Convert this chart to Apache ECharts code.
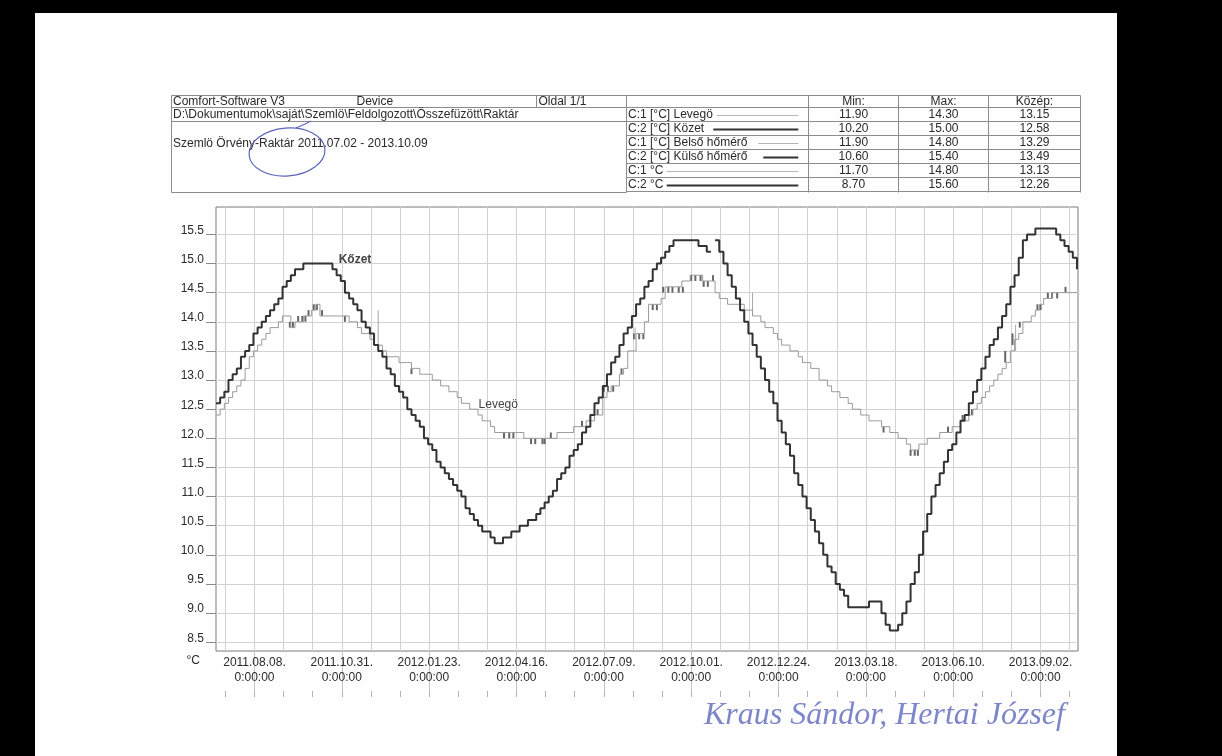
<!DOCTYPE html>
<html>
<head>
<meta charset="utf-8">
<title>Szemlö Örvény-Raktár 2011.07.02 - 2013.10.09</title>
<script src="https://cdn.jsdelivr.net/npm/echarts@6/dist/echarts.min.js"></script>
<style>
  html, body { margin: 0; padding: 0; background: #000; }
  #chart { width: 1222px; height: 756px; }
</style>
</head>
<body>
<div id="chart"></div>
<script>
// ---- data -------------------------------------------------------------
// Readings every 4 days, first reading on 2011.07.02 (day -37 relative to 2011.08.08)
const firstSampleDay = -37;
const sampleStepDays = 4;
const axisStartDay = -37;   // 2011.07.02
const axisEndDay = 792;     // 2013.10.09

// C:2 — Közet (rock temperature, °C)
const kozet = [
  12.6, 12.7, 12.8, 13.0, 13.1, 13.2, 13.4, 13.5, 13.6, 13.8,
  13.9, 14.0, 14.1, 14.2, 14.3, 14.4, 14.6, 14.7, 14.8, 14.9,
  14.9, 15.0, 15.0, 15.0, 15.0, 15.0, 15.0, 15.0, 14.9, 14.8,
  14.7, 14.5, 14.4, 14.3, 14.2, 14.0, 13.9, 13.8, 13.6, 13.5,
  13.4, 13.2, 13.1, 12.9, 12.8, 12.7, 12.5, 12.4, 12.3, 12.2,
  12.0, 11.9, 11.8, 11.6, 11.5, 11.4, 11.3, 11.2, 11.1, 11.0,
  10.8, 10.7, 10.6, 10.5, 10.4, 10.4, 10.3, 10.2, 10.2, 10.3,
  10.3, 10.4, 10.4, 10.5, 10.5, 10.6, 10.6, 10.7, 10.8, 10.9,
  11.0, 11.1, 11.3, 11.4, 11.5, 11.7, 11.8, 11.9, 12.1, 12.2,
  12.4, 12.6, 12.7, 12.9, 13.1, 13.3, 13.4, 13.6, 13.8, 13.9,
  14.1, 14.3, 14.4, 14.6, 14.7, 14.9, 15.0, 15.1, 15.2, 15.3,
  15.4, 15.4, 15.4, 15.4, 15.4, 15.4, 15.3, 15.3, 15.2, null,
  15.4, 15.2, 15.0, 14.8, 14.6, 14.4, 14.2, 14.0, 13.8, 13.6,
  13.4, 13.2, 13.0, 12.8, 12.6, 12.3, 12.1, 11.9, 11.7, 11.4,
  11.2, 11.0, 10.8, 10.6, 10.4, 10.2, 10.0, 9.8, 9.7, 9.5,
  9.4, 9.3, 9.1, 9.1, 9.1, 9.1, 9.1, 9.2, 9.2, 9.2,
  9.0, 8.8, 8.7, 8.7, 8.8, 9.0, 9.2, 9.5, 9.7, 10.0,
  10.4, 10.7, 11.0, 11.2, 11.4, 11.6, 11.8, 11.9, 12.1, 12.3,
  12.4, 12.6, 12.8, 13.0, 13.2, 13.4, 13.6, 13.7, 13.9, 14.1,
  14.3, 14.6, 14.8, 15.1, 15.4, 15.5, 15.5, 15.6, 15.6, 15.6,
  15.6, 15.6, 15.5, 15.4, 15.3, 15.2, 15.1, 14.9
];

// C:1 — Levegö (air temperature, °C)
const levego = [
  12.4, 12.5, 12.6, 12.7, 12.8, 12.9, 13.0, 13.2, 13.4, 13.5,
  13.6, 13.7, 13.8, 13.9, 13.9, 14.0, 14.1, 14.1, 13.9, 14.0,
  14.0, 14.1, 14.1, 14.2, 14.3, 14.1, 14.1, 14.1, 14.1, 14.1,
  14.1, 14.1, 14.0, 14.0, 13.9, 13.8, 13.8, 13.7, 13.6, 13.6,
  13.5, 13.4, 13.4, 13.4, 13.3, 13.3, 13.3, 13.2, 13.2, 13.1,
  13.1, 13.1, 13.0, 13.0, 12.9, 12.9, 12.8, 12.8, 12.7, 12.6,
  12.6, 12.5, 12.5, 12.4, 12.3, 12.3, 12.2, 12.1, 12.1, 12.1,
  12.1, 12.1, 12.1, 12.1, 12.0, 12.0, 12.0, 12.0, 12.0, 12.0,
  12.0, 12.0, 12.1, 12.1, 12.1, 12.1, 12.2, 12.2, 12.2, 12.3,
  12.3, 12.4, 12.4, 12.7, 12.8, 12.9, 12.9, 13.1, 13.2, 13.5,
  13.5, 13.8, 13.8, 14.0, 14.3, 14.3, 14.3, 14.4, 14.6, 14.6,
  14.6, 14.6, 14.7, 14.7, 14.8, 14.8, 14.8, 14.7, 14.7, 14.7,
  14.5, 14.4, 14.4, 14.3, 14.3, 14.3, 14.3, 14.2, 14.2, 14.1,
  14.1, 14.0, 13.9, 13.9, 13.8, 13.7, 13.6, 13.6, 13.5, 13.5,
  13.4, 13.3, 13.3, 13.2, 13.2, 13.0, 13.0, 12.9, 12.8, 12.8,
  12.7, 12.7, 12.6, 12.5, 12.5, 12.4, 12.4, 12.3, 12.3, 12.3,
  12.2, 12.2, 12.1, 12.1, 12.0, 12.0, 11.9, 11.8, 11.8, 11.9,
  11.9, 12.0, 12.0, 12.0, 12.1, 12.1, 12.1, 12.2, 12.2, 12.3,
  12.3, 12.4, 12.5, 12.6, 12.7, 12.8, 12.9, 13.0, 13.1, 13.2,
  13.3, 13.5, 13.7, 13.8, 14.0, 14.0, 14.1, 14.2, 14.3, 14.4,
  14.4, 14.5, 14.5, 14.5, 14.5, 14.5, 14.5, 14.5
];

// Levegö: short stretches where the reading flickered between two values
// [day, low, high]
const levegoFlicker = [
  [34, 13.9, 14.0], [37, 13.9, 14.0], [42, 14.0, 14.1], [46, 14.0, 14.1], [49, 14.0, 14.1],
  [52, 14.1, 14.2], [57, 14.2, 14.3], [60, 14.2, 14.3], [65, 14.1, 14.2], [87, 14.0, 14.1],
  [151, 13.1, 13.2], [240, 12.0, 12.1], [245, 12.0, 12.1], [249, 12.0, 12.1],
  [266, 11.9, 12.0], [270, 11.9, 12.0], [277, 11.9, 12.0], [279, 11.9, 12.0], [285, 12.0, 12.1],
  [315, 12.2, 12.3], [330, 12.4, 12.5], [336, 12.8, 12.9], [340, 12.8, 12.9], [345, 12.8, 12.9],
  [353, 13.1, 13.2], [365, 13.7, 13.8], [370, 13.7, 13.8], [374, 13.7, 13.8],
  [383, 14.2, 14.3], [387, 14.2, 14.3], [393, 14.5, 14.6], [398, 14.5, 14.6], [402, 14.5, 14.6],
  [408, 14.5, 14.6], [412, 14.5, 14.6], [420, 14.7, 14.8], [424, 14.7, 14.8], [429, 14.7, 14.8],
  [432, 14.6, 14.7], [436, 14.6, 14.7], [441, 14.7, 14.8],
  [605, 12.1, 12.2], [631, 11.7, 11.8], [635, 11.7, 11.8], [638, 11.7, 11.8],
  [667, 12.1, 12.2], [681, 12.3, 12.4], [690, 12.4, 12.5], [722, 13.3, 13.5], [729, 13.6, 13.8],
  [736, 13.9, 14.0], [753, 14.2, 14.3], [756, 14.2, 14.3], [763, 14.4, 14.5], [767, 14.4, 14.5],
  [772, 14.4, 14.5], [780, 14.5, 14.6]
];
// Levegö: single-reading spikes [day, low, high]
const levegoSpikes = [
  [119, 13.6, 14.2], [366, 13.7, 13.9], [479, 14.1, 14.5], [732, 13.5, 13.95]
];

// Axis tick labels
const dateTickLabels = [
  '2011.08.08.', '2011.10.31.', '2012.01.23.', '2012.04.16.', '2012.07.09.',
  '2012.10.01.', '2012.12.24.', '2013.03.18.', '2013.06.10.', '2013.09.02.'
];
const timeTickLabel = '0:00:00';
const tempTicks = [8.5, 9.0, 9.5, 10.0, 10.5, 11.0, 11.5, 12.0, 12.5, 13.0, 13.5, 14.0, 14.5, 15.0, 15.5];
const tempMin = 8.35;
const tempMax = 15.97;
const tempUnit = '°C';

// Header block
const headerSoftware = 'Comfort-Software V3';
const headerDevice = 'Device';
const headerPage = 'Oldal 1/1';
const headerPath = 'D:\\Dokumentumok\\saját\\Szemlö\\Feldolgozott\\Összefüzött\\Raktár';
const headerTitle = 'Szemlö Örvény-Raktár 2011.07.02 - 2013.10.09';
const statHeaders = ['Min:', 'Max:', 'Közép:'];
const channelNames = ['C:1 [°C] Levegö', 'C:2 [°C] Közet', 'C:1 [°C] Belső hőmérő', 'C:2 [°C] Külső hőmérő', 'C:1 °C', 'C:2 °C'];
const channelMin = [11.90, 10.20, 11.90, 10.60, 11.70, 8.70];
const channelMax = [14.30, 15.00, 14.80, 15.40, 14.80, 15.60];
const channelMean = [13.15, 12.58, 13.29, 13.49, 13.13, 12.26];
const channelHeavy = [false, true, false, true, false, true];

const seriesLabelRock = 'Kőzet';
const seriesLabelAir = 'Levegö';
const signatureText = 'Kraus Sándor, Hertai József';

// ---- helpers ------------------------------------------------------------
const DAY_MS = 86400000;
function parseDate(s) {
  const p = s.split('.');
  return Date.UTC(+p[0], +p[1] - 1, +p[2]);
}
const baseMs = parseDate(dateTickLabels[0]);
const labelDays = dateTickLabels.map(s => Math.round((parseDate(s) - baseMs) / DAY_MS));
const gridStep = (labelDays[1] - labelDays[0]) / 3;
const gridDays = [];
for (let d = labelDays[0] - gridStep; d <= axisEndDay; d += gridStep) {
  if (d >= axisStartDay) gridDays.push(d);
}
const toPairs = arr => arr.map((v, i) => [firstSampleDay + i * sampleStepDays, v]);

// ---- layout (pixels) ----------------------------------------------------
const FONT = '"Liberation Sans", Arial, Helvetica, sans-serif';
const TXT = '#2a2a2a';
const RULE = '#8c8c8c';
const L = {
  tblLeft: 171.5, tblMid: 626.5, tblRight: 1080.5,
  tblTop: 95.5, row1: 107.5, row2: 121.5, tblBottom: 192.5,
  pageDiv: 536.5,
  colDivs: [808.5, 898.5, 988.5],
  colCenters: [853.5, 943.5, 1034.5],
  rowH: 14,
  swatchStart: [716.7, 713.3, 758.3, 763.3, 666.7, 666.7],
  swatchEnd: 798.3
};

const graphics = [];
// paper
graphics.push({ type: 'rect', z: -10, silent: true, shape: { x: 35, y: 13, width: 1082, height: 743 }, style: { fill: '#fefefe' } });

function hline(x1, x2, y, color, w) {
  graphics.push({ type: 'line', silent: true, shape: { x1, y1: y, x2, y2: y }, style: { stroke: color || RULE, lineWidth: w || 1 } });
}
function vline(x, y1, y2) {
  graphics.push({ type: 'line', silent: true, shape: { x1: x, y1, x2: x, y2 }, style: { stroke: RULE, lineWidth: 1 } });
}
function text(str, x, y, align, opts) {
  graphics.push(Object.assign({
    type: 'text', silent: true,
    style: { text: str, x, y, font: '12px ' + FONT, fill: TXT, align: align || 'left', verticalAlign: 'middle', textAlign: align || 'left', textVerticalAlign: 'middle' }
  }, opts || {}));
}

// left header table
hline(L.tblLeft, L.tblRight, L.tblTop);
hline(L.tblLeft, L.tblMid, L.row1);
hline(L.tblLeft, L.tblMid, L.row2);
hline(L.tblLeft, L.tblMid, L.tblBottom);
vline(L.tblLeft, L.tblTop, L.tblBottom);
vline(L.pageDiv, L.tblTop, L.row1);
vline(L.tblMid, L.tblTop, L.tblBottom);
text(headerSoftware, 173, 101.8);
text(headerDevice, 356.5, 101.8);
text(headerPage, 538.5, 101.8);
text(headerPath, 173, 114.8);
text(headerTitle, 173, 143.5);

// right statistics table
hline(L.tblMid, L.tblRight, L.row1);
for (let i = 1; i <= channelNames.length; i++) hline(L.tblMid, L.tblRight, L.row1 + i * L.rowH);
L.colDivs.forEach(x => vline(x, L.tblTop, L.tblBottom));
vline(L.tblRight, L.tblTop, L.tblBottom);
statHeaders.forEach((h, i) => text(h, L.colCenters[i], 101.8, 'center'));
channelNames.forEach((name, i) => {
  const y = L.row1 + L.rowH * i + 7.3;
  text(name, 628, y);
  hline(L.swatchStart[i], L.swatchEnd, Math.round(y) + 0.5, channelHeavy[i] ? '#333' : '#b5b5b5', channelHeavy[i] ? 2 : 1);
  text(channelMin[i].toFixed(2), L.colCenters[0], y, 'center');
  text(channelMax[i].toFixed(2), L.colCenters[1], y, 'center');
  text(channelMean[i].toFixed(2), L.colCenters[2], y, 'center');
});

// unit caption under the temperature axis
text(tempUnit, 200, 661, 'right');

// pen mark around the title year
graphics.push({
  type: 'ellipse', silent: true, x: 287, y: 152, rotation: 0.08,
  shape: { cx: 0, cy: 0, rx: 38, ry: 24 },
  style: { fill: null, stroke: '#5b66b8', lineWidth: 1.2 }
});
graphics.push({
  type: 'polyline', silent: true,
  shape: { points: [[296, 128], [305, 124], [311, 121]] },
  style: { fill: null, stroke: '#5b66b8', lineWidth: 1.1 }
});
// signature
graphics.push({
  type: 'text', silent: true,
  style: { text: signatureText, x: 704, y: 716, font: 'italic 32px "Liberation Serif", "DejaVu Serif", serif', fill: '#7c86c9', verticalAlign: 'middle', textVerticalAlign: 'middle' }
});

// ---- chart ---------------------------------------------------------------
const chart = echarts.init(document.getElementById('chart'));

// vertical flicker marks drawn at a day between two values
function flickerRenderer(width, color) {
  return function (params, api) {
    const top = api.coord([api.value(0), api.value(2)]);
    const bottom = api.coord([api.value(0), api.value(1)]);
    return {
      type: 'rect',
      shape: { x: top[0] - width / 2, y: top[1], width: width, height: bottom[1] - top[1] },
      style: { fill: color }
    };
  };
}

chart.setOption({
  animation: false,
  backgroundColor: '#000',
  grid: {
    left: 216, top: 207, right: 144, bottom: 105,
    show: true, backgroundColor: '#fff', borderColor: '#7a7a7a', borderWidth: 1,
    containLabel: false, outerBoundsMode: 'none'
  },
  xAxis: [
    {
      type: 'value', min: axisStartDay, max: axisEndDay,
      axisLine: { show: false, onZero: false },
      axisTick: { show: false, customValues: gridDays },
      splitLine: { show: true, lineStyle: { color: '#d2d2d2', width: 1 } },
      axisLabel: {
        customValues: labelDays, margin: 4, lineHeight: 15,
        fontFamily: FONT, fontSize: 12, color: TXT,
        formatter: v => {
          const i = labelDays.indexOf(Math.round(v));
          return i < 0 ? '' : dateTickLabels[i] + '\n' + timeTickLabel;
        }
      }
    },
    {
      type: 'value', min: axisStartDay, max: axisEndDay, position: 'bottom',
      axisLine: { show: false, onZero: false },
      axisTick: { show: true, customValues: labelDays, length: 46, lineStyle: { color: '#c4c4c4', width: 1 } },
      axisLabel: { show: false }, splitLine: { show: false }
    },
    {
      type: 'value', min: axisStartDay, max: axisEndDay, position: 'bottom', offset: 40,
      axisLine: { show: false, onZero: false },
      axisTick: { show: true, customValues: gridDays, length: 6, lineStyle: { color: '#b4b4b4', width: 1 } },
      axisLabel: { show: false }, splitLine: { show: false }
    }
  ],
  yAxis: {
    type: 'value', min: tempMin, max: tempMax, position: 'left',
    axisLine: { show: false, onZero: false },
    axisTick: { show: true, customValues: tempTicks, length: 10, lineStyle: { color: '#8a8a8a' } },
    splitLine: { show: true, lineStyle: { color: '#d2d2d2', width: 1 } },
    axisLabel: {
      customValues: tempTicks, margin: 12,
      fontFamily: FONT, fontSize: 12, color: TXT,
      verticalAlign: 'bottom', lineHeight: 12, padding: [0, 0, -2, 0],
      formatter: v => v.toFixed(1)
    }
  },
  series: [
    {
      name: seriesLabelAir, type: 'line', step: 'end', xAxisIndex: 0,
      data: toPairs(levego), showSymbol: false, connectNulls: false,
      lineStyle: { color: '#9a9a9a', width: 1 }, z: 3,
      markPoint: {
        symbol: 'circle', symbolSize: 0, silent: true,
        label: { show: true, position: 'right', distance: 0, formatter: seriesLabelAir, fontFamily: FONT, fontSize: 12, color: '#444' },
        data: [{ coord: [215.5, 12.57] }]
      }
    },
    {
      name: seriesLabelAir + ' flicker', type: 'custom', xAxisIndex: 0, z: 3,
      renderItem: flickerRenderer(2, '#666'), data: levegoFlicker, silent: true
    },
    {
      name: seriesLabelAir + ' spikes', type: 'custom', xAxisIndex: 0, z: 3,
      renderItem: flickerRenderer(1, '#a8a8a8'), data: levegoSpikes, silent: true
    },
    {
      name: seriesLabelRock, type: 'line', step: 'end', xAxisIndex: 0,
      data: toPairs(kozet), showSymbol: false, connectNulls: false,
      lineStyle: { color: '#333', width: 2 }, z: 4,
      markPoint: {
        symbol: 'circle', symbolSize: 0, silent: true,
        label: { show: true, position: 'right', distance: 0, formatter: seriesLabelRock, fontFamily: FONT, fontSize: 12, fontWeight: 'bold', color: '#444' },
        data: [{ coord: [81, 15.06] }]
      }
    }
  ],
  graphic: graphics
});
</script>
</body>
</html>
